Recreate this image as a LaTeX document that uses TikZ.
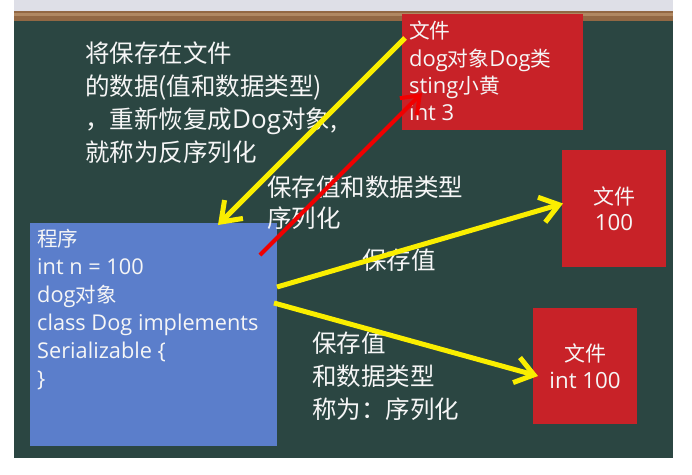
\documentclass[tikz,border=0pt]{standalone}
\usepackage{fontspec}
\usepackage{xcolor}
\usepackage{tikz}
\newfontfamily\cjk{Noto Sans CJK SC}
\newfontfamily\lat[Scale=1.06]{Open Sans}
\usetikzlibrary{positioning,calc,arrows.meta}

\definecolor{board}{RGB}{43,70,66}
\definecolor{wood}{RGB}{146,104,68}
\definecolor{woodlt}{RGB}{176,136,98}
\definecolor{topgray}{RGB}{222,223,231}
\definecolor{progblue}{RGB}{91,126,203}
\definecolor{filered}{RGB}{200,34,40}
\definecolor{yel}{RGB}{250,238,0}
\definecolor{redline}{RGB}{240,0,0}
\definecolor{chalk}{RGB}{246,246,246}

\begin{document}
\begin{tikzpicture}[x=1pt,y=-1pt,
    box/.style={rectangle,inner sep=0pt,outer sep=0pt,anchor=north west},
    txt/.style={text=chalk,align=left,inner sep=0pt,anchor=north west},
    yarrow/.style={draw=yel,line width=5pt,-{Straight Barb[length=18pt,width=26pt]}},
    rarrow/.style={draw=redline,line width=4pt,-{Straight Barb[length=16pt,width=24pt]}}]
    \useasboundingbox (0,0) rectangle (692,474);
    % board
    \fill[white] (0,0) rectangle (692,474);
    \fill[topgray] (14,0) rectangle (673,11);
    \fill[wood] (14,11) rectangle (673,21);
    \fill[woodlt] (14,13) rectangle (673,16);
    \fill[board] (14,21) rectangle (673,458);

    % boxes
    \node[box,fill=progblue,minimum width=247pt,minimum height=223pt] (prog) at (30,223) {};
    \node[box,fill=filered,minimum width=181pt,minimum height=116pt] (file1) at (402,14) {};
    \node[box,fill=filered,minimum width=104pt,minimum height=117pt,text=chalk,align=center,
        font=\cjk\fontsize{21}{26}\selectfont] (file2) at (562,150) {文件\\{\lat 100}};
    \node[box,fill=filered,minimum width=104pt,minimum height=116pt,text=chalk,align=center,
        font=\cjk\fontsize{21}{27}\selectfont] (file3) at (533,308) {文件\\{\lat int 100}};

    % texts
    \node[txt,font=\cjk\fontsize{20.5}{28}\selectfont] (progtxt) at (37,229)
        {程序\\{\lat int n = 100}\\{\lat dog}对象\\{\lat class Dog implements}\\{\lat Serializable \{}\\{\lat\}}};
    \node[txt,font=\cjk\fontsize{20.7}{27.4}\selectfont] (file1txt) at (409,21)
        {文件\\{\lat dog}对象{\lat Dog}类\\{\lat sting}小黄\\{\lat int 3}};
    \node[txt,font=\cjk\fontsize{24.5}{33}\selectfont] (deser) at (85,42)
        {将保存在文件\\的数据(值和数据类型)\\，重新恢复成{\lat Dog}对象,\\就称为反序列化};
    \node[txt,font=\cjk\fontsize{24.5}{31}\selectfont] (ser) at (267,176)
        {保存值和数据类型\\序列化};
    \node[txt,font=\cjk\fontsize{24.5}{31}\selectfont] (val) at (362,249) {保存值};
    \node[txt,font=\cjk\fontsize{24.5}{33}\selectfont] (valtype) at (312,332)
        {保存值\\和数据类型\\称为：序列化};

    % arrows
    \draw[yarrow] ([xshift=3pt,yshift=-24pt]file1.north west) -- ([xshift=188pt,yshift=-2pt]prog.north west);
    \draw[rarrow] ([xshift=-17pt,yshift=-32pt]prog.north east) -- ([xshift=20pt,yshift=37pt]file1.south west);
    \draw[yarrow] ([yshift=-64pt]prog.north east) -- ([xshift=1pt,yshift=5pt]file2.west);
    \draw[yarrow] ([xshift=-3pt,yshift=-80pt]prog.north east) -- ([xshift=5pt,yshift=-10pt]file3.west);
\end{tikzpicture}
\end{document}
